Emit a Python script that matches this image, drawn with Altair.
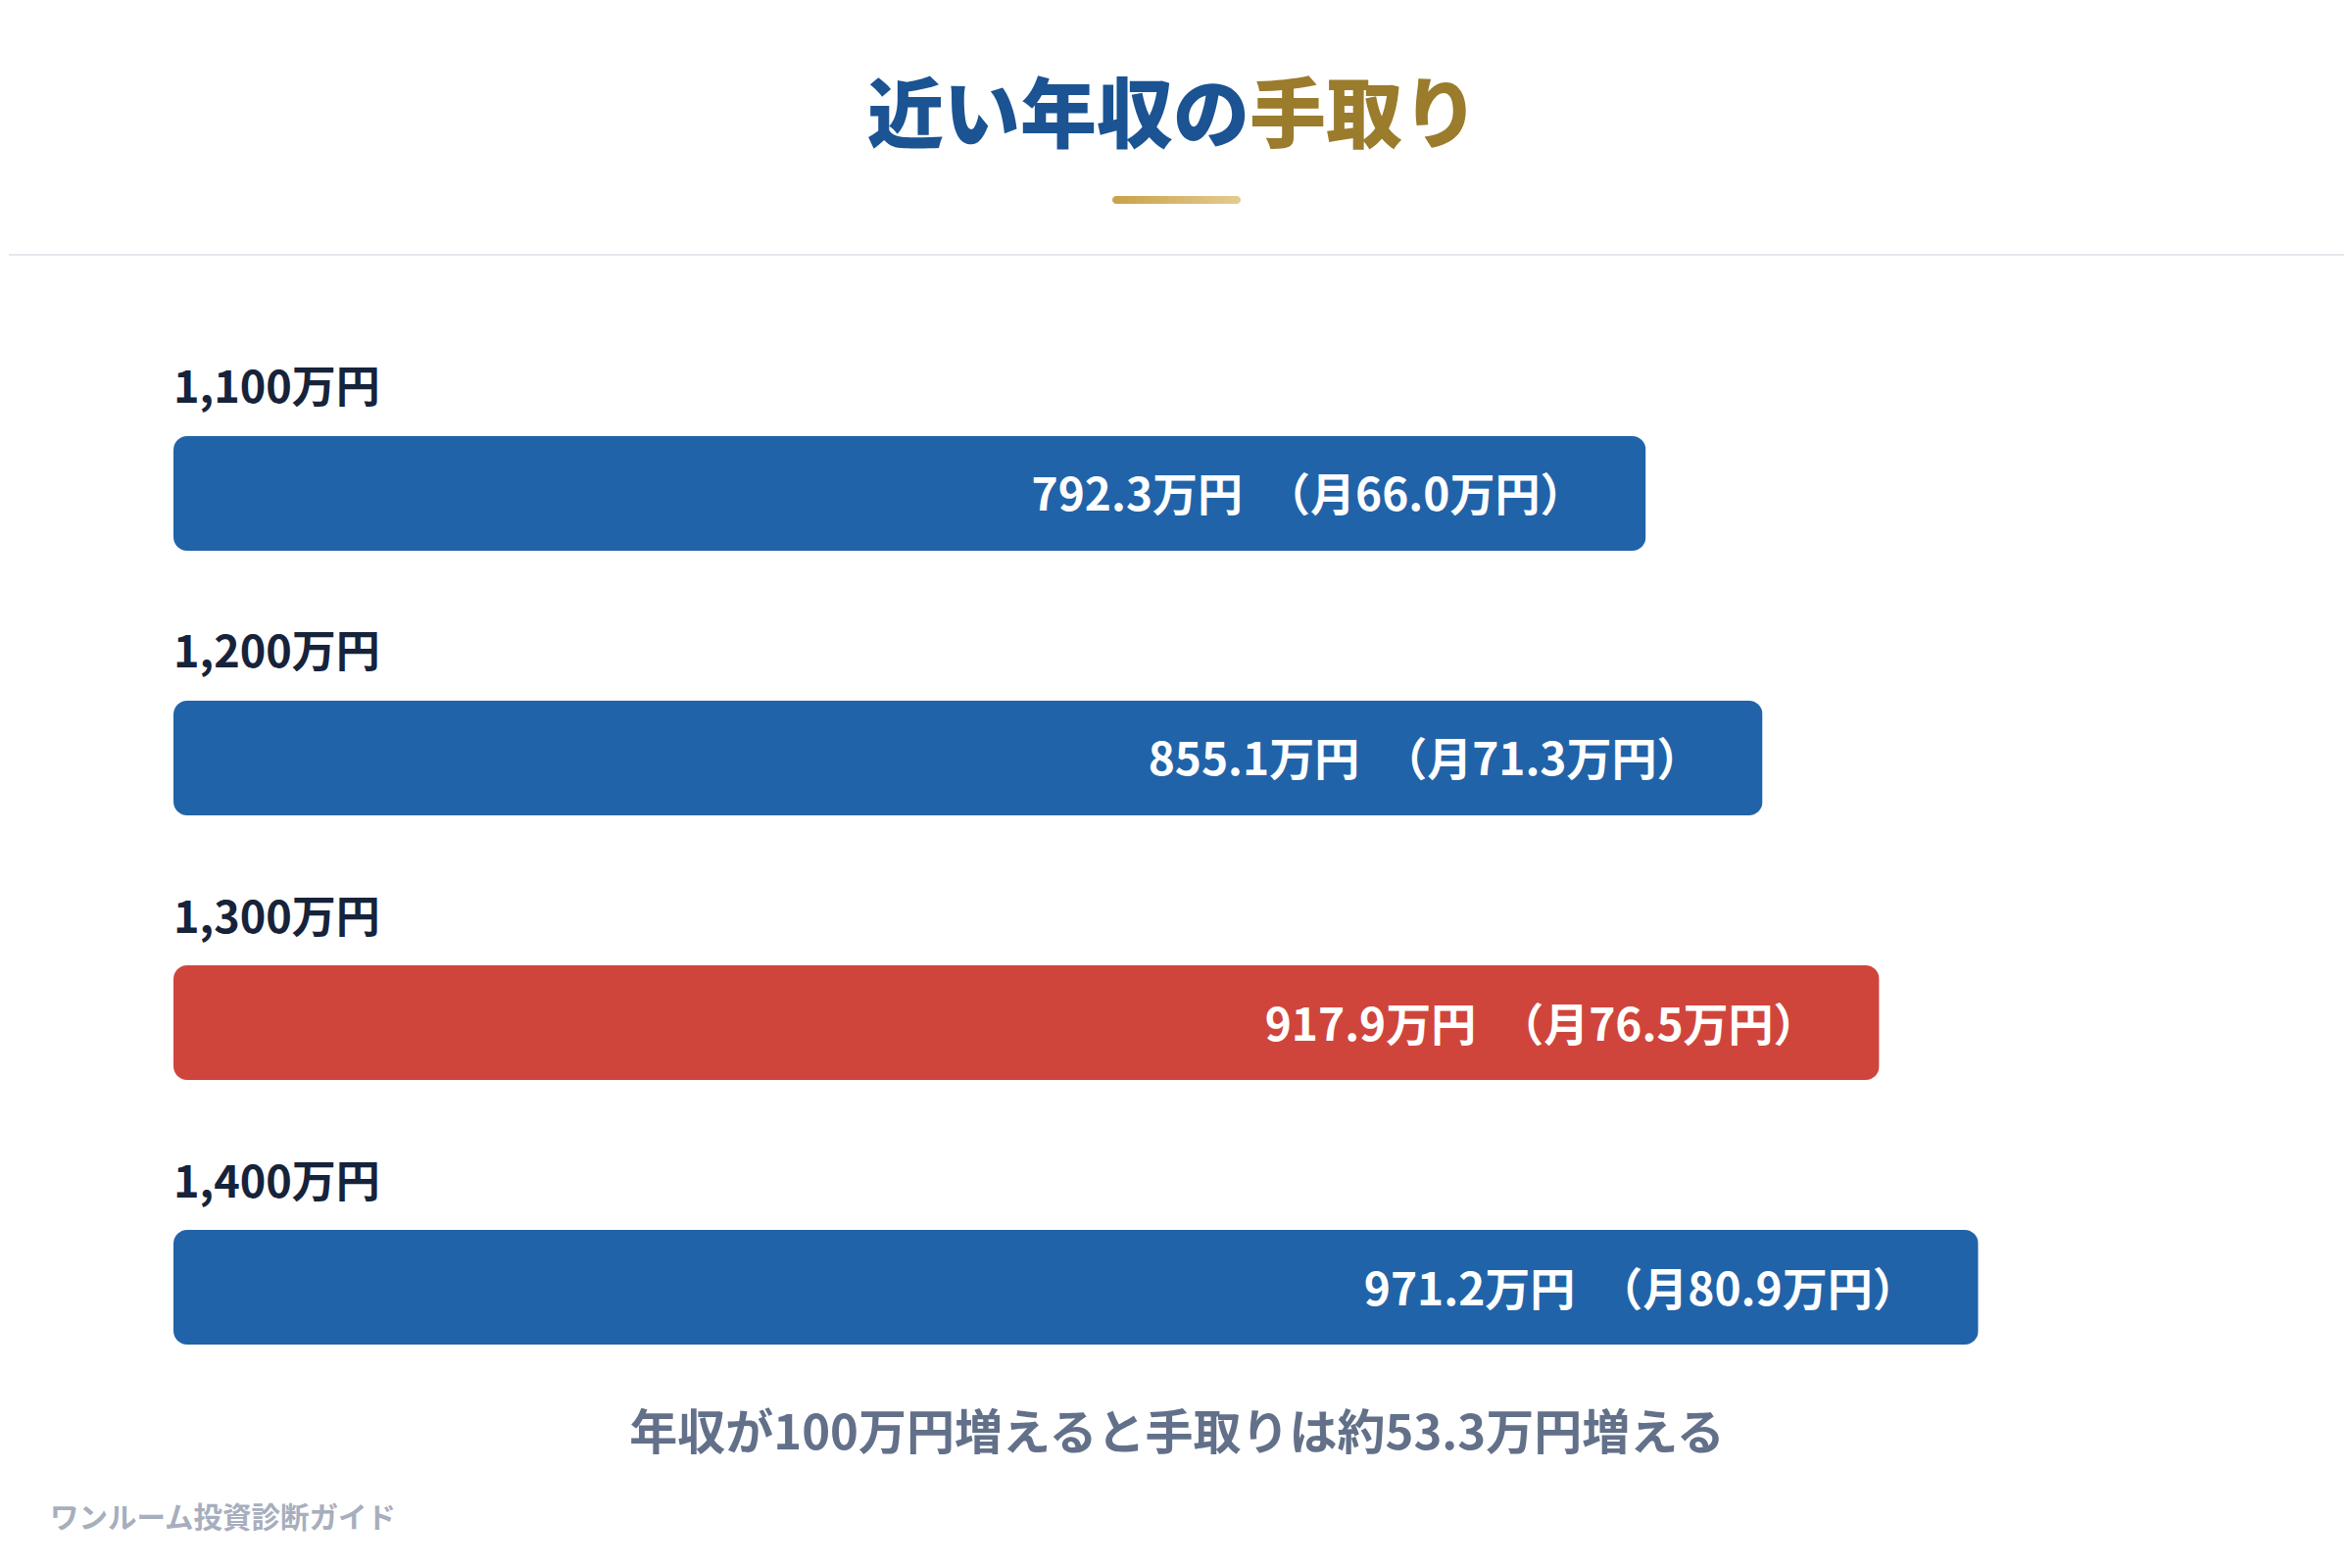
import altair as alt
import pandas as pd

# data
incomes = ["1,100万円", "1,200万円", "1,300万円", "1,400万円"]
take_home = [792.3, 855.1, 917.9, 971.2]
monthly = [66.0, 71.3, 76.5, 80.9]
group = ["other", "other", "current", "other"]

title_main = "近い年収の"
title_accent = "手取り"
note = "年収が100万円増えると手取りは約53.3万円増える"
footer = "ワンルーム投資診断ガイド"

FONT = "Noto Sans CJK JP"
BLUE = "#2163a8"
RED = "#d0453b"

df = pd.DataFrame({
    "income": incomes,
    "take_home": take_home,
    "monthly": monthly,
    "group": group,
})
df["label"] = [f"{v:.1f}万円\u2002（月{m:.1f}万円）" for v, m in zip(take_home, monthly)]

one = pd.DataFrame({"k": [0]})

x_scale = alt.Scale(domain=[0, 1080], range=[168, 2216], nice=False, zero=True)
y_scale = alt.Scale(domain=incomes, range=[437, 1364], paddingInner=0.567, paddingOuter=0)

base = alt.Chart(df)

bars = base.mark_bar(cornerRadius=14).encode(
    x=alt.X("take_home:Q", scale=x_scale, axis=None),
    y=alt.Y("income:N", scale=y_scale, axis=None, sort=incomes),
    color=alt.Color("group:N",
                    scale=alt.Scale(domain=["other", "current"], range=[BLUE, RED]),
                    legend=None),
)

cat_labels = base.mark_text(
    align="left", baseline="alphabetic", dy=-92,
    font=FONT, fontSize=45, fontWeight="bold", color="#16233a"
).encode(
    x=alt.value(168),
    y=alt.Y("income:N", scale=y_scale, axis=None, sort=incomes),
    text="income:N",
)

value_labels = base.mark_text(
    align="right", baseline="middle", dx=-62, dy=4,
    font=FONT, fontSize=46, fontWeight="bold", color="white"
).encode(
    x=alt.X("take_home:Q", scale=x_scale, axis=None),
    y=alt.Y("income:N", scale=y_scale, axis=None, sort=incomes),
    text="label:N",
)

# two-colour heading
head_a = alt.Chart(one).mark_text(
    align="right", baseline="middle", text=title_main,
    font=FONT, fontSize=78, fontWeight=900, color="#1b5393"
).encode(x=alt.value(1266), y=alt.value(114))

head_b = alt.Chart(one).mark_text(
    align="left", baseline="middle", text=title_accent,
    font=FONT, fontSize=78, fontWeight=900, color="#9b7b2c"
).encode(x=alt.value(1266), y=alt.value(114))

underline = alt.Chart(one).mark_rect(
    cornerRadius=4,
    color=alt.Gradient(
        gradient="linear",
        stops=[alt.GradientStop(color="#c8a24a", offset=0),
               alt.GradientStop(color="#e4cb90", offset=1)],
        x1=0, x2=1, y1=0, y2=0,
    ),
).encode(x=alt.value(1126), x2=alt.value(1257), y=alt.value(192), y2=alt.value(200))

divider = alt.Chart(one).mark_rule(color="#e5e8ee", strokeWidth=2).encode(
    x=alt.value(0), x2=alt.value(2384), y=alt.value(252)
)

note_text = alt.Chart(one).mark_text(
    align="center", baseline="middle", text=note,
    font=FONT, fontSize=49, fontWeight="bold", color="#627089"
).encode(x=alt.value(1192), y=alt.value(1456))

footer_text = alt.Chart(one).mark_text(
    align="left", baseline="middle", text=footer,
    font=FONT, fontSize=29.5, fontWeight="bold", color="#a7aebd"
).encode(x=alt.value(42), y=alt.value(1542))

chart = alt.layer(
    divider, underline, head_a, head_b, bars, cat_labels, value_labels, note_text, footer_text
).properties(
    width=2384,
    height=1584,
    autosize=alt.AutoSizeParams(type="fit", contains="padding"),
    padding=0,
    background="white",
).configure_view(stroke=None)

chart.save("out.html", embed_options={"renderer": "svg", "actions": False})
